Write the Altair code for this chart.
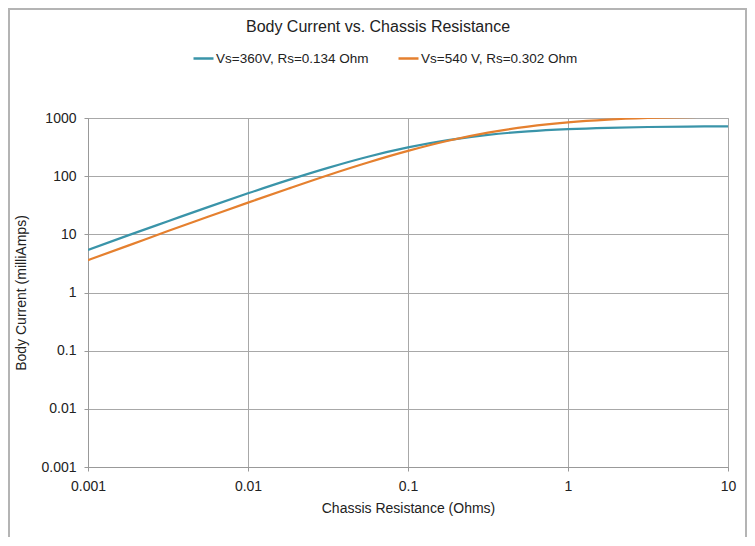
import altair as alt
import pandas as pd

# Chassis resistance (Ohms), quarter-decade steps
resistance = [0.001, 0.00178, 0.00316, 0.00562, 0.01, 0.0178, 0.0316, 0.0562, 0.1,
              0.178, 0.316, 0.562, 1, 1.78, 3.16, 5.62, 10]
# Body current (milliAmps)
current_360 = [5.4, 9.6, 16.8, 29.4, 50.7, 85.5, 139, 216, 312,
               416, 513, 590, 644, 679, 700, 713, 720]
current_540 = [3.6, 6.4, 11.4, 20.0, 35.1, 60.9, 104, 172, 272,
               406, 560, 712, 841, 936, 999, 1039, 1063]
series_names = ["Vs=360V, Rs=0.134 Ohm", "Vs=540 V, Rs=0.302 Ohm"]
series_colors = ["#3a94a9", "#e5802f"]
x_ticks = [0.001, 0.01, 0.1, 1, 10]
y_ticks = [0.001, 0.01, 0.1, 1, 10, 100, 1000]

rows = []
for r, a, b in zip(resistance, current_360, current_540):
    rows.append({"R": r, "I": a, "series": series_names[0]})
    rows.append({"R": r, "I": b, "series": series_names[1]})
df = pd.DataFrame(rows)

FONT = "Liberation Sans"

lines = alt.Chart(df).mark_line(strokeWidth=2.2, clip=True, interpolate="monotone").encode(
    x=alt.X("R:Q", scale=alt.Scale(type="log", domain=[0.001, 10]),
            axis=alt.Axis(values=x_ticks, format="~g", labelFlush=False,
                          title="Chassis Resistance (Ohms)")),
    y=alt.Y("I:Q", scale=alt.Scale(type="log", domain=[0.001, 1000]),
            axis=alt.Axis(values=y_ticks, format="~g", title="Body Current (milliAmps)")),
    color=alt.Color("series:N", sort=series_names,
                    scale=alt.Scale(domain=series_names, range=series_colors),
                    legend=alt.Legend(title=None, orient="none", legendX=104, legendY=-71,
                                      direction="horizontal", symbolType="stroke",
                                      symbolSize=400, symbolStrokeWidth=2.5,
                                      labelFont=FONT, labelFontSize=13.5, labelColor="#222",
                                      labelOffset=1, columnPadding=24)),
)

frame = alt.Chart(pd.DataFrame({"a": [0]})).mark_rect(
    filled=False, stroke="#b4b4b4", strokeWidth=2, clip=False
).encode(x=alt.value(-79), x2=alt.value(658), y=alt.value(-109), y2=alt.value(700))

chart = alt.layer(frame, lines).properties(
    width=640, height=349,
    autosize=alt.AutoSizeParams(type="none"),
    padding={"left": 80, "top": 110, "right": 19, "bottom": 70},
    title=alt.TitleParams("Body Current vs. Chassis Resistance", anchor="middle",
                          frame="group", dx=-30, offset=-27, font=FONT, fontSize=16,
                          fontWeight="normal", color="#222"),
).configure_axis(
    gridColor="#a8a8a8", domainColor="#999999", tickColor="#999999", tickSize=4,
    labelFont=FONT, labelFontSize=14, labelColor="#222", labelPadding=8,
    titleFont=FONT, titleFontSize=14, titleFontWeight="normal", titleColor="#222",
).configure_axisX(titlePadding=8).configure_axisY(titlePadding=12).configure_view(
    stroke="#a8a8a8"
)

chart.save("out.html", embed_options={"renderer": "svg", "actions": False})
